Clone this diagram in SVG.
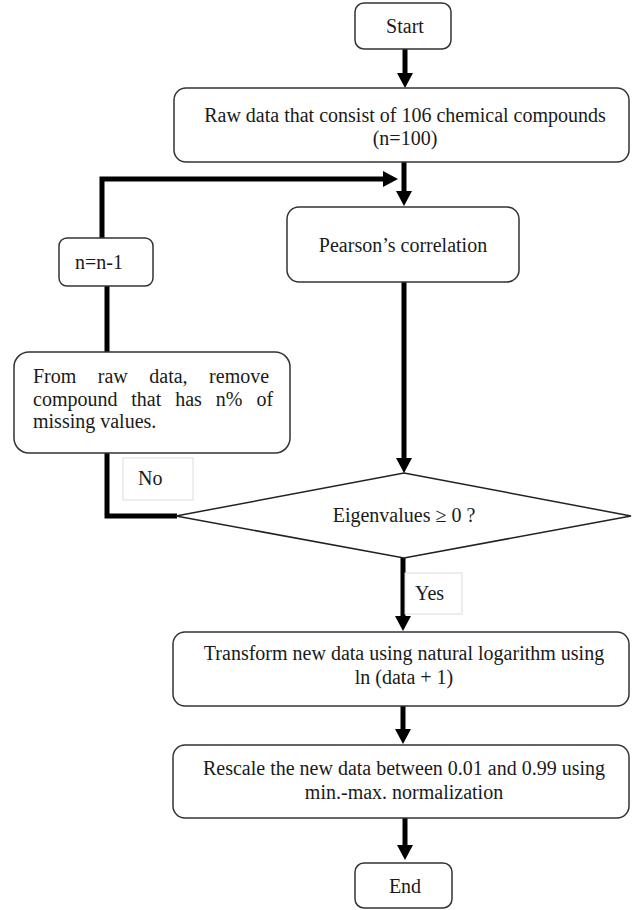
<svg xmlns="http://www.w3.org/2000/svg" width="636" height="910" viewBox="0 0 636 910">
<style>
.box{fill:#fff;stroke:#333;stroke-width:1.5}
.lbl{fill:#fff;stroke:#dcdcdc;stroke-width:1}
.t{font-family:"Liberation Serif","Times New Roman",serif;font-size:20px;fill:#1a1a1a}
.c{text-anchor:middle}
.con{fill:none;stroke:#000;stroke-width:5;stroke-linejoin:miter;stroke-linecap:butt}
</style>
<defs>
<marker id="ah" markerUnits="userSpaceOnUse" markerWidth="15" markerHeight="16" viewBox="0 -8 15 16" refX="0" refY="0" orient="auto" overflow="visible">
<path d="M0,-8 L15,0 L0,8 z" fill="#000"/>
</marker>
</defs>
<g id="connectors">
<line class="con" x1="405" y1="49" x2="405" y2="73" marker-end="url(#ah)"/>
<line class="con" x1="404" y1="162" x2="404" y2="191" marker-end="url(#ah)"/>
<path class="con" d="M177,516 H107 V453"/>
<path class="con" d="M107,352 V286"/>
<path class="con" d="M102,238 V179 H383" marker-end="url(#ah)"/>
<line class="con" x1="404" y1="282" x2="404" y2="458" marker-end="url(#ah)"/>
<line class="con" x1="403" y1="558" x2="403" y2="616" marker-end="url(#ah)"/>
<line class="con" x1="403" y1="706" x2="403" y2="729" marker-end="url(#ah)"/>
<line class="con" x1="405" y1="818" x2="405" y2="845" marker-end="url(#ah)"/>
</g>
<g id="start">
<rect class="box" x="355" y="3" width="96" height="46" rx="9"/>
<text class="t c" x="405" y="33">Start</text>
</g>
<g id="raw">
<rect class="box" x="174" y="88" width="455" height="74" rx="12"/>
<text class="t c" x="405" y="122">Raw data that consist of 106 chemical compounds</text>
<text class="t c" x="405" y="145">(n=100)</text>
</g>
<g id="pearson">
<rect class="box" x="287" y="207" width="232" height="75" rx="12"/>
<text class="t c" x="403" y="252">Pearson’s correlation</text>
</g>
<g id="ndec">
<rect class="box" x="59" y="238" width="94" height="48" rx="8"/>
<text class="t" x="75" y="269">n=n-1</text>
</g>
<g id="remove">
<rect class="box" x="14" y="352" width="276" height="101" rx="15"/>
<text class="t" y="383"><tspan x="33">From</tspan><tspan x="97.8">raw</tspan><tspan x="149.3">data,</tspan><tspan x="209.1">remove</tspan></text>
<text class="t" y="406"><tspan x="33">compound</tspan><tspan x="131.3">that</tspan><tspan x="175.2">has</tspan><tspan x="215.8">n%</tspan><tspan x="256.4">of</tspan></text>
<text class="t" x="33" y="428">missing values.</text>
</g>
<g id="no-label">
<rect class="lbl" x="123" y="458" width="70" height="42"/>
<text class="t" x="138" y="485">No</text>
</g>
<g id="decision">
<polygon points="404,473 631,516 404,558 176,516" fill="#fff" stroke="#222" stroke-width="1.5"/>
<text class="t c" x="404" y="522">Eigenvalues ≥ 0 ?</text>
</g>
<g id="yes-label">
<rect class="lbl" x="405" y="573" width="57" height="41"/>
<text class="t" x="415" y="600">Yes</text>
</g>
<g id="transform">
<rect class="box" x="173" y="632" width="456" height="74" rx="12"/>
<text class="t c" x="404" y="660">Transform new data using natural logarithm using</text>
<text class="t c" x="404" y="684">ln (data + 1)</text>
</g>
<g id="rescale">
<rect class="box" x="173" y="745" width="456" height="73" rx="12"/>
<text class="t c" x="404" y="775">Rescale the new data between 0.01 and 0.99 using</text>
<text class="t c" x="404" y="799">min.-max. normalization</text>
</g>
<g id="end">
<rect class="box" x="355" y="863" width="97" height="45" rx="9"/>
<text class="t c" x="405" y="893">End</text>
</g>
</svg>
